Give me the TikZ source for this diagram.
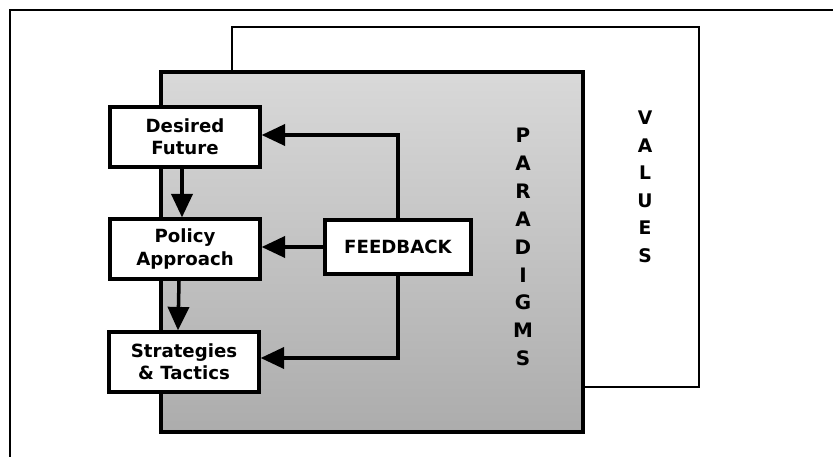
\documentclass[tikz,border=0pt]{standalone}
\usepackage{fontspec}
\setmainfont{DejaVu Sans}
\usetikzlibrary{arrows.meta}

\begin{document}
\begin{tikzpicture}[
    x=0.03cm, y=-0.03cm,
    stage/.style={draw, line width=2.8pt, fill=white, minimum width=4.5cm, minimum height=1.8cm, align=center, font=\bfseries\fontsize{15.5}{19}\selectfont},
    link/.style={line width=3pt, -{Triangle[length=20pt,width=18pt]}},
    stack/.style={align=center, font=\bfseries\fontsize{16}{23.5}\selectfont}
  ]
    \useasboundingbox (0,0) rectangle (833,457);
    % outer frame
    \draw[line width=2pt] (10,457) -- (10,10) -- (833,10);
    % values and paradigms
    \draw[line width=2.4pt, fill=white] (232,27) rectangle (699,387);
    \draw[line width=2.8pt, top color=gray!30, bottom color=gray!65] (161,72) rectangle (583,432);
    \node[stack] (values) at (645,187) {V\\A\\L\\U\\E\\S};
    \node[stack, font=\bfseries\fontsize{17}{23.8}\selectfont] (paradigms) at (523,247) {P\\A\\R\\A\\D\\I\\G\\M\\S};
    % steps
    \node[stage] (future) at (185,137) {Desired\\Future};
    \node[stage] (policy) at (185,249) {Policy\\Approach};
    \node[stage] (tactics) at (184,362) {Strategies\\\& Tactics};
    \node[stage, minimum width=4.38cm, minimum height=1.62cm, font=\bfseries\fontsize{15.5}{19}\selectfont] (feedback) at (398,247) {FEEDBACK};
    \draw[link] ([xshift=-0.09cm]future.south) -- ([xshift=-0.09cm]policy.north);
    \draw[link] ([xshift=-0.18cm]policy.south) -- ([xshift=-0.18cm]tactics.north);
    \draw[link] (feedback.north) |- ([yshift=0.06cm]future.east);
    \draw[link] (feedback.west) -- (feedback.west -| policy.east);
    \draw[link] (feedback.south) |- ([yshift=0.12cm]tactics.east);
  \end{tikzpicture}
\end{document}
